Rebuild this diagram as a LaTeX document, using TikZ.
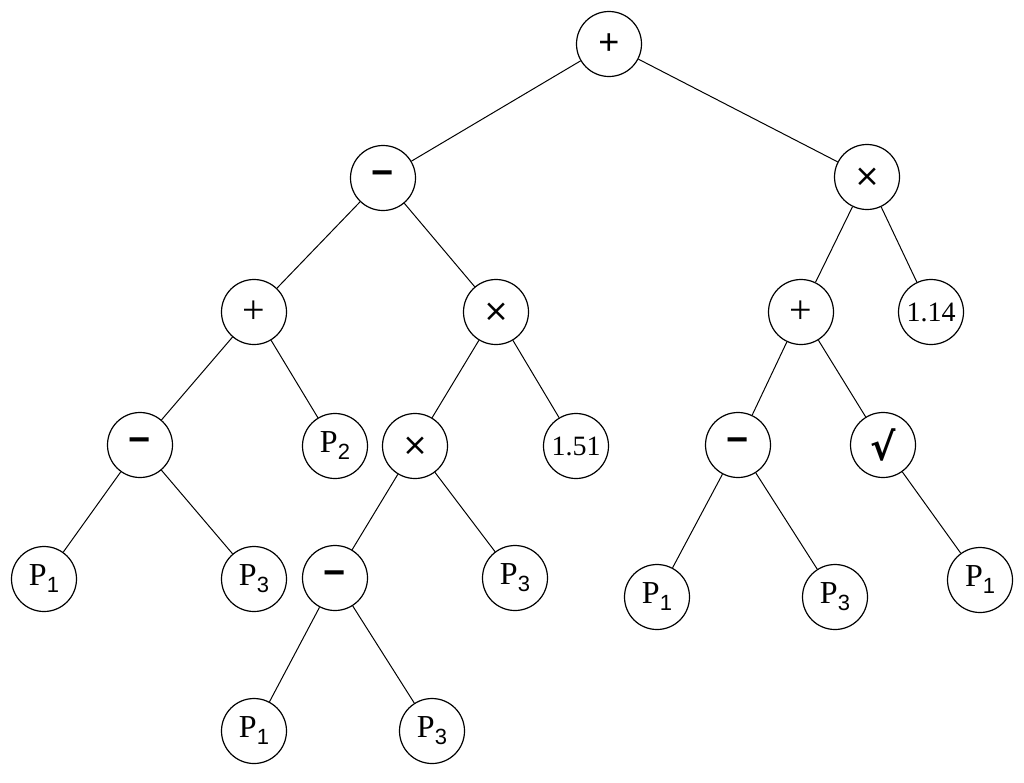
\documentclass[tikz,border=0pt]{standalone}
\usepackage{fontspec}
\setmainfont{Liberation Serif}
\newfontfamily\symfont{DejaVu Sans}
\newfontfamily\arialfont{Liberation Sans}
\begin{document}
\begin{tikzpicture}[x=1pt,y=-1pt,
  nd/.style={circle,draw,line width=1.2pt,minimum size=65pt,inner sep=0pt,font=\fontsize{32}{34}\selectfont},
  edge/.style={line width=1pt}]
\useasboundingbox (0,0) rectangle (1024,782);
\newcommand{\Pv}[1]{P\raisebox{-7pt}{\arialfont\fontsize{22}{22}\selectfont #1}}
\newcommand{\opplus}{{\arialfont\fontsize{36}{36}\selectfont +}}
\newcommand{\opplusthin}{{\fontsize{40}{40}\selectfont +}}
\newcommand{\opminus}{{\arialfont\bfseries\fontsize{38}{38}\selectfont −}}
\newcommand{\optimes}{{\symfont\fontsize{31}{31}\selectfont ×}}
\node[nd] (r) at (609,44) {\opplus};
\node[nd] (a) at (383,178) {\opminus};
\node[nd] (b) at (867,177) {\optimes};
\node[nd] (c) at (254,312) {\opplusthin};
\node[nd] (d) at (496,312) {\optimes};
\node[nd] (e) at (801,312) {\opplusthin};
\node[nd,font=\fontsize{28}{30}\selectfont] (f) at (931,312) {1.14};
\node[nd] (g) at (140,445) {\opminus};
\node[nd] (h) at (335,446) {\Pv{2}};
\node[nd] (i) at (415,446) {\optimes};
\node[nd,font=\fontsize{28}{30}\selectfont] (j) at (576,446) {1.51};
\node[nd] (k) at (738,445) {\opminus};
\node[nd] (l) at (883,445) {{\symfont\bfseries\fontsize{38}{38}\selectfont √}};
\node[nd] (m) at (44,579) {\Pv{1}};
\node[nd] (n) at (254,579) {\Pv{3}};
\node[nd] (o) at (335,578) {\opminus};
\node[nd] (p) at (515,578) {\Pv{3}};
\node[nd] (q) at (657,597) {\Pv{1}};
\node[nd] (s) at (835,597) {\Pv{3}};
\node[nd] (t) at (980,580) {\Pv{1}};
\node[nd] (u) at (254,731) {\Pv{1}};
\node[nd] (v) at (432,731) {\Pv{3}};
\foreach \x/\y in {r/a,r/b,a/c,a/d,b/e,b/f,c/g,c/h,d/i,d/j,e/k,e/l,g/m,g/n,i/o,i/p,k/q,k/s,l/t,o/u,o/v}
  \draw[edge] (\x) -- (\y);
\end{tikzpicture}
\end{document}
